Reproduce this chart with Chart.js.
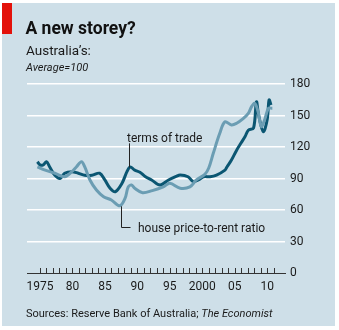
<!DOCTYPE html>
<html>
<head>
<meta charset="utf-8">
<script src="https://cdn.jsdelivr.net/npm/chart.js@4.4.1/dist/chart.umd.min.js"></script>
<style>
  html, body { margin: 0; padding: 0; background: #ffffff; }
  #wrap { position: relative; width: 339px; height: 330px; overflow: hidden; }
  canvas { position: absolute; left: 0; top: 0; }
  .t { position: absolute; white-space: nowrap; font-family: Roboto, "Noto Sans", sans-serif; color: #1a1a1a; line-height: 1; }
</style>
</head>
<body>
<div id="wrap">
  <canvas id="c" width="339" height="330"></canvas>
  <div class="t" style="left:25.5px; top:19.8px; font-size:17.5px; font-weight:bold; color:#111;">A new storey?</div>
  <div class="t" style="left:26px; top:43.6px; font-size:13.5px;">Australia’s:</div>
  <div class="t" style="left:26px; top:62.4px; font-size:11px; font-style:italic;">Average=100</div>
  <div class="t" style="left:127px; top:132.2px; font-size:12px;">terms of trade</div>
  <div class="t" style="left:138px; top:221.6px; font-size:12px;">house price-to-rent ratio</div>
  <div class="t" style="left:26px; top:307.5px; font-size:11px;">Sources: Reserve Bank of Australia; <i>The Economist</i></div>
</div>
<script>
// ---- Data ----
const totYears = [1974.6,1975.0,1975.5,1976.0,1976.5,1977.3,1978.1,1978.8,1979.9,1980.9,1981.9,1983.0,1984.2,1985.0,1985.8,1986.6,1987.6,1988.4,1988.9,1989.6,1990.4,1991.2,1992.2,1993.5,1994.8,1996.0,1996.6,1997.8,1998.6,1999.4,2000.2,2001.2,2002.2,2003.5,2003.8,2004.5,2005.3,2006.0,2006.6,2007.1,2007.9,2008.35,2008.7,2009.4,2010.0,2010.3,2010.6];
const totValues = [106,103,103,106,101,93,90,95,96.5,95,93,93,95,88.6,80.7,77.4,85,96.5,101,98,96,92,88.6,83.8,88.6,92,93.3,91.7,87,88.6,91.7,91.7,93.3,98,101,107.6,117,124,130,136,138,163,150,134.6,146,164.8,160];

const hprYears = [1974.6,1975.8,1977.3,1978.8,1979.9,1980.6,1981.4,1981.9,1982.7,1983.7,1984.8,1986.0,1987.3,1988.1,1988.6,1989.1,1989.6,1990.8,1992.3,1994.0,1995.0,1996.6,1998.1,1999.1,2000.4,2001.0,2001.7,2002.7,2003.5,2004.5,2005.3,2006.3,2007.1,2007.6,2008.1,2008.6,2009.1,2009.6,2010.2,2010.8];
const hprValues = [101,98,95,91.7,96.5,101,106,101,88.6,79,72.7,69.5,64,71,82,83.8,80.7,76.5,78.5,82,85.4,80.7,82,88.6,94,100,114,133,144,141,142.6,147,152,158.4,161.6,153.6,139.4,145.7,156.8,156.8];

const xTickYears  = [1975,1980,1985,1990,1995,2000,2005,2010];
const xTickLabels = ['1975','80','85','90','95','2000','05','10'];
const yTickValues = [0,30,60,90,120,150,180];
const minorTickYears = Array.from({length: 37}, (_, i) => 1975 + i);

// ---- Styling / layout ----
const BG = '#cedfe8';
const DARK = '#0b5672';
const LIGHT = '#6b9db3';
const FONT = 'Roboto, "Noto Sans", sans-serif';

const annot = {
  tot: { x: 1988.75, yTop: 123.5, yBottom: 100.5 },
  hpr: { x: 1987.45, yTop: 63.5, yBottom: 44, xEnd: 1988.95 }
};

const toPts = (xs, ys) => xs.map((x, i) => ({ x: x, y: ys[i] }));

const panelPlugin = {
  id: 'panel',
  beforeDraw(chart) {
    const ctx = chart.ctx;
    ctx.save();
    ctx.fillStyle = '#ffffff';
    ctx.fillRect(0, 0, 339, 330);
    ctx.fillStyle = BG;
    ctx.fillRect(2, 3, 333, 323);
    ctx.fillStyle = '#e3120b';
    ctx.fillRect(2, 3, 10, 31);
    ctx.restore();
  },
  afterDraw(chart) {
    const ctx = chart.ctx;
    const xs = chart.scales.x, ys = chart.scales.y;
    const bottom = chart.chartArea.bottom;
    ctx.save();
    ctx.strokeStyle = '#333333';
    ctx.lineWidth = 1;
    ctx.beginPath();
    minorTickYears.forEach(yr => {
      const px = Math.round(xs.getPixelForValue(yr)) + 0.5;
      ctx.moveTo(px, bottom - 5);
      ctx.lineTo(px, bottom);
    });
    ctx.stroke();
    // leader lines
    ctx.strokeStyle = '#222222';
    ctx.beginPath();
    let px = Math.round(xs.getPixelForValue(annot.tot.x)) + 0.5;
    ctx.moveTo(px, ys.getPixelForValue(annot.tot.yTop));
    ctx.lineTo(px, ys.getPixelForValue(annot.tot.yBottom));
    px = Math.round(xs.getPixelForValue(annot.hpr.x)) + 0.5;
    const py = Math.round(ys.getPixelForValue(annot.hpr.yBottom)) + 0.5;
    ctx.moveTo(px, ys.getPixelForValue(annot.hpr.yTop));
    ctx.lineTo(px, py);
    ctx.lineTo(xs.getPixelForValue(annot.hpr.xEnd), py);
    ctx.stroke();
    ctx.restore();
  }
};

new Chart(document.getElementById('c'), {
  type: 'line',
  data: {
    datasets: [
      { label: 'house price-to-rent ratio', data: toPts(hprYears, hprValues), borderColor: LIGHT, borderWidth: 3, pointRadius: 0, tension: 0.35, fill: false },
      { label: 'terms of trade', data: toPts(totYears, totValues), borderColor: DARK, borderWidth: 3, pointRadius: 0, tension: 0.35, fill: false }
    ]
  },
  options: {
    responsive: false,
    animation: false,
    devicePixelRatio: 1,
    layout: { padding: { top: 84, left: 27, right: 0, bottom: 0 } },
    plugins: { legend: { display: false }, tooltip: { enabled: false } },
    scales: {
      x: {
        type: 'linear',
        min: 1973.0,
        max: 2012.75,
        afterBuildTicks: s => { s.ticks = xTickYears.map(v => ({ value: v })); },
        afterFit: s => { s.height = 57; },
        grid: { display: false, drawTicks: false },
        border: { display: true, color: '#333333', width: 1 },
        ticks: {
          autoSkip: false,
          maxRotation: 0,
          padding: 7,
          color: '#1a1a1a',
          font: { family: FONT, size: 12 },
          callback: (v) => { const i = xTickYears.indexOf(v); return i >= 0 ? xTickLabels[i] : ''; }
        }
      },
      y: {
        position: 'right',
        min: 0,
        max: 180,
        afterBuildTicks: s => { s.ticks = yTickValues.map(v => ({ value: v })); },
        afterFit: s => { s.width = 54; },
        grid: {
          drawTicks: false,
          lineWidth: 1.5,
          color: c => (c.tick && c.tick.value === 0) ? 'rgba(0,0,0,0)' : '#ffffff'
        },
        border: { display: false },
        ticks: {
          padding: 5,
          color: '#1a1a1a',
          font: { family: FONT, size: 12 }
        }
      }
    }
  },
  plugins: [panelPlugin]
});
</script>
</body>
</html>
